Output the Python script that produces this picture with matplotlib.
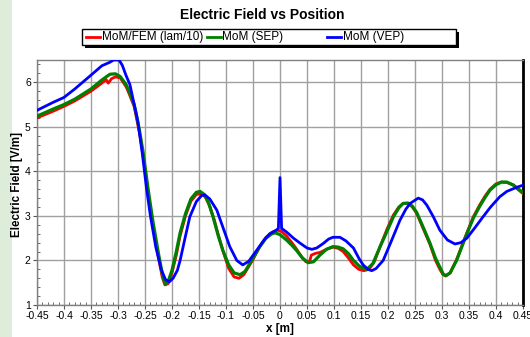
import matplotlib
matplotlib.use("Agg")
import matplotlib.pyplot as plt
from matplotlib.lines import Line2D
from matplotlib.patches import Rectangle
import numpy as np

plt.rcParams['font.family'] = ['Liberation Sans', 'DejaVu Sans']

# ---- data ----
x_sep = [-0.45, -0.42, -0.40, -0.38, -0.35, -0.33, -0.315, -0.305, -0.296, -0.285, -0.278, -0.27,
         -0.265, -0.26, -0.254, -0.244, -0.235, -0.225, -0.218, -0.213, -0.208, -0.2, -0.192, -0.185,
         -0.175, -0.165, -0.155, -0.148, -0.14, -0.132, -0.124, -0.115, -0.106, -0.095, -0.085, -0.074,
         -0.065, -0.05, -0.038, -0.026, -0.015, -0.009, 0.0, 0.012, 0.022, 0.031, 0.042, 0.052, 0.062,
         0.074, 0.086, 0.098, 0.108, 0.117, 0.127, 0.136, 0.148, 0.161, 0.172, 0.185, 0.198, 0.21, 0.22,
         0.228, 0.237, 0.245, 0.253, 0.265, 0.278, 0.288, 0.296, 0.302, 0.307, 0.315, 0.327, 0.346,
         0.358, 0.37, 0.38, 0.389, 0.4, 0.41, 0.42, 0.432, 0.44, 0.45]
y_sep = [5.24, 5.40, 5.50, 5.62, 5.85, 6.05, 6.18, 6.19, 6.13, 5.95, 5.75, 5.5,
         5.22, 4.9, 4.47, 3.58, 2.85, 2.15, 1.7, 1.48, 1.5, 1.78, 2.2, 2.62,
         3.05, 3.38, 3.53, 3.55, 3.48, 3.28, 2.98, 2.58, 2.23, 1.9, 1.72, 1.68,
         1.75, 2.05, 2.3, 2.5, 2.6, 2.62, 2.58, 2.46, 2.34, 2.22, 2.05, 1.95, 1.97,
         2.12, 2.25, 2.31, 2.3, 2.26, 2.15, 2.0, 1.86, 1.8, 1.93, 2.3, 2.65, 2.98, 3.18,
         3.28, 3.29, 3.22, 3.08, 2.75, 2.38, 2.05, 1.85, 1.7, 1.66, 1.72, 2.0, 2.6,
         2.95, 3.22, 3.42, 3.58, 3.7, 3.76, 3.76, 3.69, 3.62, 3.52]

x_fem = [-0.45, -0.42, -0.40, -0.38, -0.35, -0.33, -0.322, -0.318, -0.312, -0.305, -0.296, -0.285,
         -0.278, -0.27, -0.265, -0.26, -0.254, -0.244, -0.235, -0.225, -0.218, -0.213, -0.207, -0.2,
         -0.192, -0.185, -0.175, -0.165, -0.155, -0.146, -0.138, -0.13, -0.122, -0.113, -0.104, -0.095,
         -0.085, -0.076, -0.067, -0.05, -0.038, -0.026, -0.015, -0.005, 0.003, 0.012, 0.022, 0.031,
         0.04, 0.048, 0.055, 0.058, 0.066, 0.074, 0.086, 0.098, 0.108, 0.117, 0.127, 0.136, 0.146,
         0.155, 0.165, 0.175, 0.185, 0.198, 0.21, 0.22, 0.228, 0.237, 0.245, 0.253, 0.265, 0.278,
         0.288, 0.296, 0.302, 0.307, 0.315, 0.327, 0.346, 0.358, 0.37, 0.38, 0.389, 0.4, 0.41, 0.42,
         0.432, 0.44, 0.45]
y_fem = [5.2, 5.35, 5.46, 5.58, 5.8, 5.98, 6.06, 5.98, 6.08, 6.12, 6.1, 5.9,
         5.7, 5.45, 5.15, 4.85, 4.4, 3.5, 2.75, 2.05, 1.62, 1.45, 1.48, 1.72,
         2.12, 2.55, 3.0, 3.33, 3.48, 3.5, 3.42, 3.22, 2.92, 2.52, 2.15, 1.82,
         1.63, 1.6, 1.68, 2.02, 2.3, 2.52, 2.63, 2.68, 2.65, 2.55, 2.4, 2.25,
         2.08, 1.97, 1.98, 2.12, 2.16, 2.18, 2.25, 2.3, 2.27, 2.2, 2.05, 1.9, 1.8,
         1.77, 1.8, 1.98, 2.3, 2.7, 3.02, 3.2, 3.28, 3.28, 3.2, 3.06, 2.72, 2.35,
         2.0, 1.8, 1.68, 1.65, 1.72, 2.02, 2.62, 2.98, 3.25, 3.45, 3.6, 3.72, 3.76, 3.75,
         3.7, 3.6, 3.5]

x_vep = [-0.45, -0.42, -0.40, -0.38, -0.35, -0.33, -0.315, -0.308, -0.298, -0.292, -0.285, -0.278,
         -0.27, -0.263, -0.255, -0.247, -0.24, -0.23, -0.22, -0.212, -0.205, -0.198, -0.19, -0.185,
         -0.175, -0.167, -0.155, -0.145, -0.139, -0.13, -0.117, -0.105, -0.093, -0.08, -0.069, -0.058,
         -0.043, -0.03, -0.019, -0.007, -0.003, 0.0, 0.003, 0.012, 0.025, 0.037, 0.05, 0.059, 0.068,
         0.08, 0.09, 0.098, 0.111, 0.122, 0.136, 0.146, 0.154, 0.163, 0.17, 0.178, 0.191, 0.205, 0.222,
         0.233, 0.241, 0.256, 0.264, 0.272, 0.284, 0.296, 0.31, 0.324, 0.335, 0.346, 0.36, 0.376, 0.39,
         0.407, 0.42, 0.438, 0.45]
y_vep = [5.37, 5.55, 5.66, 5.85, 6.16, 6.37, 6.45, 6.5, 6.5, 6.38, 6.15, 5.95,
         5.5, 5.1, 4.4, 3.6, 3.0, 2.3, 1.8, 1.57, 1.52, 1.6, 1.78, 2.0,
         2.55, 2.98, 3.32, 3.46, 3.47, 3.38, 3.13, 2.72, 2.31, 2.0, 1.9, 1.98,
         2.23, 2.45, 2.6, 2.68, 2.72, 3.86, 2.72, 2.64, 2.5, 2.39, 2.28, 2.25, 2.28,
         2.38, 2.48, 2.52, 2.52, 2.44, 2.28, 2.05, 1.9, 1.8, 1.77, 1.82, 2.0, 2.4, 2.9,
         3.15, 3.28, 3.4, 3.36, 3.24, 2.98, 2.68, 2.46, 2.37, 2.4, 2.5, 2.72, 2.98, 3.2,
         3.43, 3.55, 3.64, 3.69]

series_labels = ["MoM/FEM (lam/10)", "MoM (SEP)", "MoM (VEP)"]
series_colors = ["#ff0000", "#008000", "#0000ff"]
x_ticks = [round(-0.45 + 0.05 * i, 2) for i in range(19)]
x_tick_labels = ["-0.45", "-0.4", "-0.35", "-0.3", "-0.25", "-0.2", "-0.15", "-0.1", "-0.05", "0",
                 "0.05", "0.1", "0.15", "0.2", "0.25", "0.3", "0.35", "0.4", "0.45"]
y_ticks = [1, 2, 3, 4, 5, 6]

# ---- figure ----
W, H = 530, 337
fig = plt.figure(figsize=(W / 100, H / 100), dpi=100)
fig.patch.set_facecolor("white")
fig.patches.append(Rectangle((0, 0), 12 / W, 1, transform=fig.transFigure,
                             facecolor="#deecda", edgecolor="none", zorder=-5))

ax = fig.add_axes([37 / W, (H - 305) / H, (523 - 37) / W, (305 - 60) / H])
ax.set_zorder(1)
ax.set_xlim(-0.45, 0.45)
ax.set_ylim(1, 6.5)

ax.plot(x_fem, y_fem, color=series_colors[0], lw=2.0, zorder=3, clip_on=True)
ax.plot(x_sep, y_sep, color=series_colors[1], lw=2.3, zorder=4, clip_on=True)
ax.plot(x_vep, y_vep, color=series_colors[2], lw=2.0, zorder=5, clip_on=True)

ax.set_xticks(x_ticks)
ax.set_xticklabels(x_tick_labels)
ax.set_yticks(y_ticks)
ax.set_xticks(np.arange(-0.45, 0.4501, 0.01), minor=True)
ax.set_yticks(np.arange(1, 6.5, 0.2), minor=True)
ax.grid(True, which="major", color="#a0a0a0", lw=1.0, zorder=1)
ax.tick_params(which="major", direction="out", length=3, labelsize=7.5, color="#555555", pad=1.5)
ax.tick_params(which="minor", direction="in", length=2, color="#555555")

for s in ["left", "bottom", "top"]:
    ax.spines[s].set_color("#808080")
    ax.spines[s].set_linewidth(1.0)
ax.spines["right"].set_color("black")
ax.spines["right"].set_linewidth(2.0)

ax.set_xlabel("x [m]", fontsize=8.5, fontweight="bold", labelpad=1.5)
ax.set_ylabel("Electric Field [V/m]", fontsize=8.4, fontweight="bold", va="center")
ax.yaxis.set_label_coords((17 - 37) / (523 - 37), 0.49)

fig.text(262 / W, 1 - 15 / H, "Electric Field vs Position", ha="center", va="center",
         fontsize=10, fontweight="bold")

# legend box with shadow
bx0, bx1, by0, by1 = 82, 456, 29, 45
fig.patches.append(Rectangle(((bx0 + 3) / W, 1 - (by1 + 3) / H), (bx1 - bx0) / W, (by1 - by0) / H,
                             transform=fig.transFigure, facecolor="black", edgecolor="none", zorder=5))
fig.patches.append(Rectangle((bx0 / W, 1 - by1 / H), (bx1 - bx0) / W, (by1 - by0) / H,
                             transform=fig.transFigure, facecolor="white", edgecolor="black",
                             lw=1.0, zorder=6))
ycen = 1 - 37 / H
for i, (lab, col) in enumerate(zip(series_labels, series_colors)):
    x0 = 86 + 120.5 * i
    fig.lines.append(Line2D([x0 / W, (x0 + 14) / W], [ycen, ycen], transform=fig.transFigure,
                            color=col, lw=2.0, zorder=7))
    fig.text((x0 + 16) / W, ycen, lab, ha="left", va="center", fontsize=8.5, zorder=8)

fig.savefig("out.png", dpi=100)
